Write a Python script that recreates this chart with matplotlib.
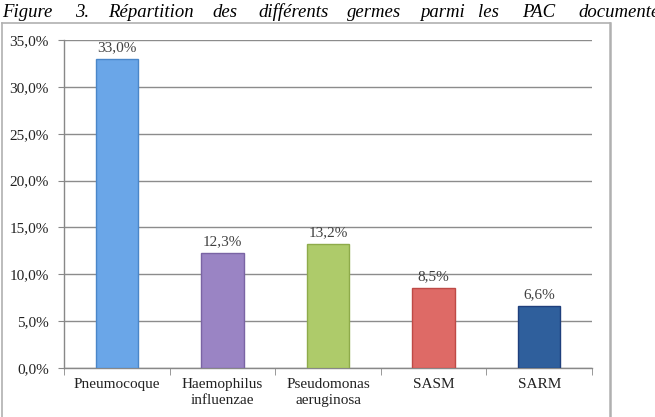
import matplotlib
matplotlib.use("Agg")
import matplotlib.pyplot as plt
from matplotlib.lines import Line2D

categories = ["Pneumocoque", "Haemophilus\ninfluenzae", "Pseudomonas\naeruginosa", "SASM", "SARM"]
values = [33.0, 12.3, 13.2, 8.5, 6.6]
labels = ["33,0%", "12,3%", "13,2%", "8,5%", "6,6%"]
yticks = [0, 5, 10, 15, 20, 25, 30, 35]
ytick_labels = ["0,0%", "5,0%", "10,0%", "15,0%", "20,0%", "25,0%", "30,0%", "35,0%"]
colors = ["#6aa6e8", "#9a84c4", "#aecb6a", "#de6a66", "#2f5f9c"]
edges = ["#4a86c8", "#7a64a4", "#8eab4a", "#be4a46", "#1f3f7c"]
title_words = ["Figure", "3.", "Répartition", "des", "différents", "germes", "parmi", "les", "PAC", "documentées"]
title_x = [2, 75, 108, 212, 258, 347, 420, 478, 522, 578]

W, H = 655, 417
fig = plt.figure(figsize=(W / 100, H / 100), dpi=100)
serif = ["Liberation Serif", "DejaVu Serif"]

for w, x in zip(title_words, title_x):
    fig.text(x / W, 1 - 17 / H, w, fontsize=13.5, style="italic", family=serif,
             va="baseline", ha="left", color="black")

# chart border
bc = "#b0b0b0"
fig.add_artist(Line2D([2 / W, 2 / W], [0, 1 - 23 / H], transform=fig.transFigure, color=bc, lw=1.2))
fig.add_artist(Line2D([2 / W, 610 / W], [1 - 23 / H, 1 - 23 / H], transform=fig.transFigure, color=bc, lw=1.2))
fig.add_artist(Line2D([610 / W, 610 / W], [0, 1 - 23 / H], transform=fig.transFigure, color=bc, lw=1.8))

ax = fig.add_axes([64 / W, 1 - 368 / H, (592 - 64) / W, (368 - 40) / H])
x = list(range(len(categories)))
ax.bar(x, values, width=0.4, color=colors, edgecolor=edges, linewidth=1.0, zorder=3)
for xi, v, lab in zip(x, values, labels):
    ax.text(xi, v + 0.5, lab, ha="center", va="bottom", fontsize=11, family=serif, color="#404040", zorder=4)

ax.set_xlim(-0.5, len(categories) - 0.5)
ax.set_ylim(0, 35)
ax.set_yticks(yticks)
ax.set_yticklabels(ytick_labels, fontsize=11, family=serif, color="#222222")
ax.set_xticks(x)
ax.set_xticklabels(categories, fontsize=11, family=serif, color="#222222", linespacing=1.35)
ax.set_xticks([i - 0.5 for i in range(len(categories) + 1)], minor=True)
ax.tick_params(axis="x", which="major", length=0, pad=7)
ax.tick_params(axis="x", which="minor", length=5, color="#888888", direction="out")
ax.tick_params(axis="y", length=4, color="#888888", direction="out", pad=7)
ax.grid(axis="y", color="#8c8c8c", linewidth=1.0, zorder=0)
for s in ["top", "right"]:
    ax.spines[s].set_visible(False)
for s in ["left", "bottom"]:
    ax.spines[s].set_color("#888888")
    ax.spines[s].set_linewidth(1.0)

fig.savefig("out.png", dpi=100)
